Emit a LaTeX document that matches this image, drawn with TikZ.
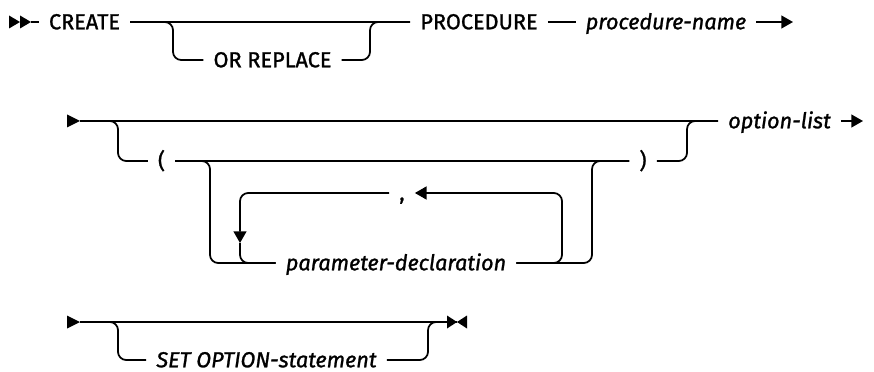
\documentclass[tikz,border=0pt]{standalone}
\usepackage{fontspec}
\setmainfont{Fira Sans}[FakeBold=1.2]
\usetikzlibrary{arrows.meta, positioning}
\tikzset{
  rail/.style={line width=1.5pt, rounded corners=7pt},
  kw/.style={inner xsep=0.3cm, inner ysep=0pt, text height=12.4pt, text depth=0pt, font=\fontsize{18.5}{20}\selectfont},
  var/.style={kw, font=\fontsize{18.5}{20}\selectfont\itshape},
  tip/.style={-{Triangle[length=10pt,width=11pt]}}
}
% triangulo relleno con la punta en #1 (derecha o izquierda segun #2)
\newcommand{\marca}[2]{\fill #1 -- ++(#2,-6.5) -- ++(0,13) -- cycle;}

\begin{document}
\begin{tikzpicture}[x=0.03cm, y=-0.03cm]
    \useasboundingbox (0,0) rectangle (874,372);

    % 1. Primera linea: CREATE [OR REPLACE] PROCEDURE procedure-name
    \marca{(20,22)}{-11}
    \marca{(31,22)}{-11}
    \coordinate (ini1) at (31,22);
    \node[kw] (create) at (84.5,22) {CREATE};
    \node[kw] (orrep) at (272.5,60) {OR REPLACE};
    \node[kw] (proc) at (479,22) {PROCEDURE};
    \node[var] (pname) at (666,22) {procedure-name};
    \coordinate (j1) at (173,60);
    \coordinate (j2) at (370,22);
    \coordinate (fin1) at (793,22);

    \draw[rail] (ini1) -- (create.west);
    \draw[rail] (create.east) -- (proc.west);
    \draw[rail] (create.east) -| (j1) -- (orrep.west);
    \draw[rail] (orrep.east) -| (j2) -- (proc.west);
    \draw[rail] (proc.east) -- (pname.west);
    \draw[rail, tip] (pname.east) -- (fin1);

    % 2. Segunda linea: ( parameter-declaration , ... ) option-list
    \marca{(80,121)}{-13}
    \coordinate (ini2) at (80,121);
    \node[kw] (lpar) at (161.5,161) {(};
    \node[var] (pdecl) at (396,263) {parameter-declaration};
    \node[kw] (comma) at (402,193) {,};
    \node[kw] (rpar) at (643,161) {)};
    \node[var] (optlist) at (779.5,121) {option-list};
    \coordinate (j3) at (118,161);
    \coordinate (j4) at (210,263);
    \coordinate (j5) at (592,161);
    \coordinate (j6) at (687,121);
    \coordinate (j7) at (562,193);
    \coordinate (j8) at (240,243);
    \coordinate (fin2) at (863,121);

    \draw[rail] (ini2) -- (optlist.west);
    \draw[rail] (ini2) -| (j3) -- (lpar.west);
    \draw[rail] (lpar.east) -- (rpar.west);
    \draw[rail] (lpar.east) -| (j4) -- (pdecl.west);
    \draw[rail] (pdecl.east) -| (j5) -- (rpar.west);
    \draw[rail] (rpar.east) -| (j6) -- (optlist.west);
    \draw[rail, tip] (optlist.east) -- (fin2);

    % bucle de repeticion con la coma
    \draw[rail, tip] (pdecl.east) -| (j7) -- (comma.east);
    \draw[rail, tip] (comma.west) -| (j8);
    \draw[rail] (j8) |- (pdecl.west);

    % 3. Tercera linea: [SET OPTION-statement]
    \marca{(80,322)}{-13}
    \coordinate (ini3) at (80,322);
    \node[var] (setopt) at (266.5,360) {SET OPTION-statement};
    \coordinate (j9) at (118,360);
    \coordinate (j10) at (428,322);
    \coordinate (fin3) at (457,322);

    \draw[rail] (ini3) -- (fin3);
    \draw[rail] (ini3) -| (j9) -- (setopt.west);
    \draw[rail] (setopt.east) -| (j10) -- (fin3);
    \marca{(fin3)}{-10}
    \marca{(fin3)}{10}

\end{tikzpicture}
\end{document}
